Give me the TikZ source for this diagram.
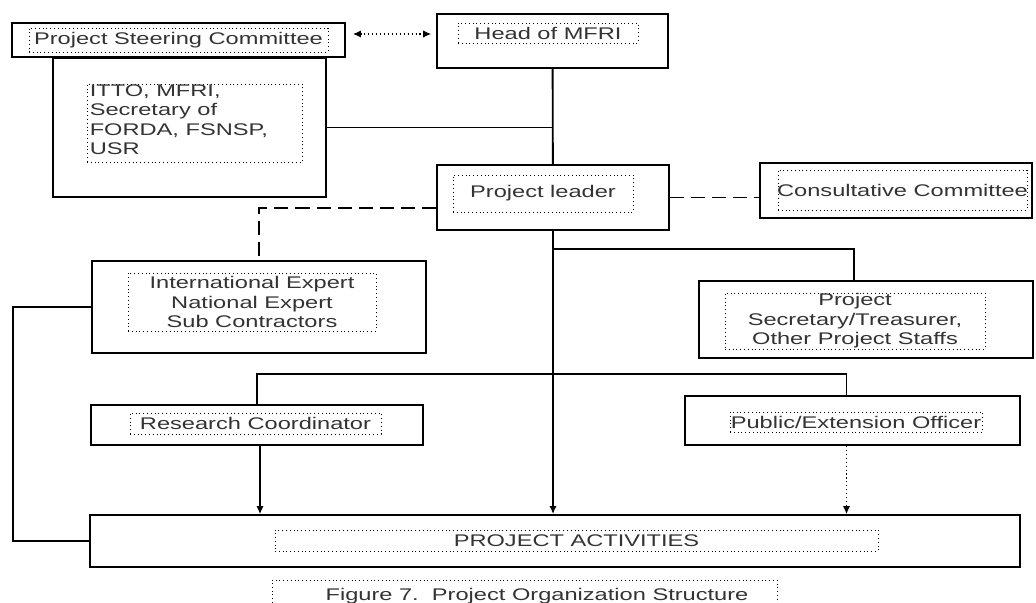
\documentclass[tikz,border=0pt]{standalone}
\usepackage{fontspec}
\setmainfont{Liberation Sans}[FakeStretch=1.4]
\usepackage{tikz}
\usetikzlibrary{calc}
\usetikzlibrary{arrows.meta}
\usetikzlibrary{fit}

\begin{document}
\begin{tikzpicture}[x=0.025cm, y=-0.025cm,
    font=\fontsize{12pt}{13.8pt}\selectfont, text=black!80,
    outerbox/.style={draw, line width=1.3pt, inner sep=0pt},
    dotframe/.style={draw, dotted, line width=0.7pt, inner sep=0pt},
    label/.style={inner sep=0pt, align=center},
    link/.style={line width=1.3pt},
    longdash/.style={link, dash pattern=on 10pt off 5pt},
    flow/.style={line width=0.8pt, -{Latex[length=2mm, width=1.8mm]}}]

    % Page size (pixels of the reference)
    \useasboundingbox (0,0) rectangle (1036,603);

    % Outer boxes, given by their corners
    \node[outerbox, fit={(12,23) (345,57)}] (psc) {};
    \node[outerbox, fit={(437,14) (668,68)}] (head) {};
    \node[outerbox, fit={(53,58) (326,197)}] (itto) {};
    \node[outerbox, fit={(437,165) (669,230)}] (leader) {};
    \node[outerbox, fit={(760,163) (1032,218)}] (consult) {};
    \node[outerbox, fit={(92,261) (426,353)}] (intl) {};
    \node[outerbox, fit={(699,281) (1033,358)}] (staff) {};
    \node[outerbox, fit={(91,405) (423,445)}] (research) {};
    \node[outerbox, fit={(685,396) (1020,445)}] (public) {};
    \node[outerbox, fit={(90,515) (1020,567)}] (activities) {};

    % Dotted frames inside the boxes
    \node[dotframe, fit={(29,28) (328,52)}] (pscframe) {};
    \node[dotframe, fit={(458,23) (638,43)}] (headframe) {};
    \node[dotframe, fit={(87,84) (302,162)}] (ittoframe) {};
    \node[dotframe, fit={(453,175) (633,212)}] (leaderframe) {};
    \node[dotframe, fit={(778,170) (1027,210)}] (consultframe) {};
    \node[dotframe, fit={(128,273) (376,331)}] (intlframe) {};
    \node[dotframe, fit={(725,293) (985,349)}] (staffframe) {};
    \node[dotframe, fit={(130,413) (381,434)}] (researchframe) {};
    \node[dotframe, fit={(730,412) (982,432)}] (publicframe) {};
    \node[dotframe, fit={(275,530) (878,551)}] (activitiesframe) {};

    % Texts
    \node[label] (psctext) at (pscframe) {Project Steering Committee};
    \node[label] (headtext) at (headframe) {Head of MFRI};
    \node[label, anchor=north west, align=left] (ittotext) at ($(ittoframe.north west)+(3,1)$)
        {ITTO, MFRI,\\Secretary of\\FORDA, FSNSP,\\USR};
    \node[label] (leadertext) at (leaderframe) {Project leader};
    \node[label] (consulttext) at (consultframe) {Consultative Committee};
    \node[label] (intltext) at (intlframe) {International Expert\\National Expert\\Sub Contractors};
    \node[label] (stafftext) at (staffframe) {Project\\Secretary/Treasurer,\\Other Project Staffs};
    \node[label] (researchtext) at (researchframe) {Research Coordinator};
    \node[label] (publictext) at (publicframe) {Public/Extension Officer};
    \node[label] (activitiestext) at (activitiesframe) {PROJECT ACTIVITIES};

    % Caption, its frame runs off the bottom
    \draw[dotted, line width=0.7pt] (272,603) -- (272,580) -- (777,580) -- (777,603);
    \node[label] (caption) at (537,596) {Figure 7.\ \ Project Organization Structure};

    % Steering committee <-> head
    \draw[dotted, line width=0.8pt, {Latex[length=2mm, width=1.8mm]}-{Latex[length=2mm, width=1.8mm]},
        shorten <=5pt, shorten >=3.5pt] ([yshift=0.15cm]psc.east) -- ([yshift=0.15cm]psc.east -| head.west);

    % Main line of command
    \draw[link] (head) -- (leader);
    \draw[link] (itto.east) -- (itto.east -| head.south);
    \draw[flow, line width=1.3pt] (leader.south) -- (leader.south |- activities.north);

    % Advisory links
    \draw[longdash] (leader.east) -- (leader.east -| consult.west);
    \draw[longdash] ([yshift=-0.26cm]leader.west) -| (intl.north);

    % Staff branch
    \draw[link] ($(leader.south)+(0,18)$) -| ([xshift=-0.3cm]staff.north);

    % Research / extension bar
    \draw[link] (research.north) -- ++(0,-30) -| ([xshift=-0.15cm]public.north);
    \draw[flow] ([xshift=0.075cm]research.south) -- ([xshift=0.075cm]research.south |- activities.north);
    \draw[flow, dotted] ([xshift=-0.15cm]public.south) -- ([xshift=-0.15cm]public.south |- activities.north);

    % Experts to activities, along the left side
    \coordinate (leftrail) at (13,0);
    \draw[link] (intl.west) -- (intl.west -| leftrail) |- (activities.west);

\end{tikzpicture}
\end{document}
